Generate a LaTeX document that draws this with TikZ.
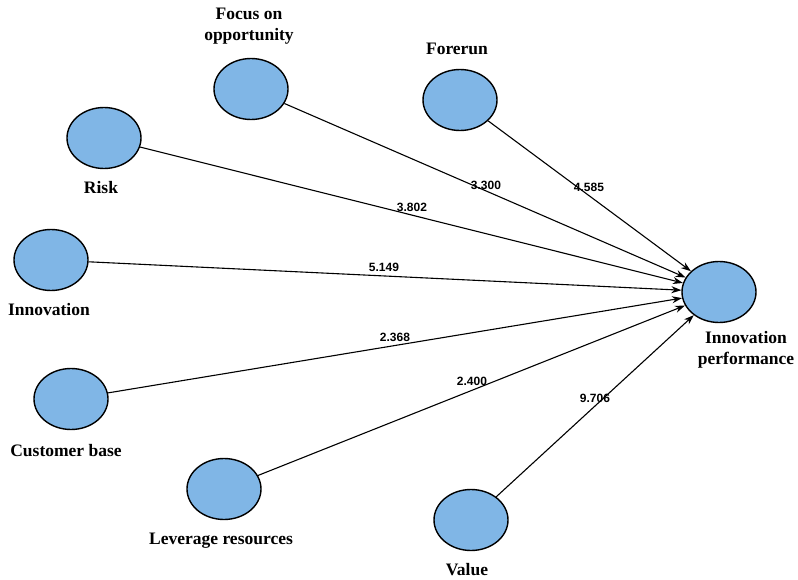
\documentclass[tikz,border=0pt]{standalone}
\usepackage{fontspec}
\setmainfont{Liberation Serif}
\newfontfamily\numfont{Liberation Sans}
\usetikzlibrary{shapes.geometric,arrows.meta}
\definecolor{nodeblue}{RGB}{128,182,230}
\begin{document}
\begin{tikzpicture}[x=1pt,y=-1pt,
  lv/.style={ellipse,draw=black,line width=1.4pt,fill=nodeblue,minimum width=74pt,minimum height=61pt,inner sep=0pt},
  lbl/.style={font=\fontsize{17.5}{20.5}\selectfont\bfseries,align=center,inner sep=0pt},
  coef/.style={font=\numfont\bfseries\fontsize{12}{14}\selectfont,inner sep=0pt},
  link/.style={draw=black,line width=1.1pt,-{Stealth[length=10pt,width=7pt]}}]
\useasboundingbox (0,0) rectangle (798,580);
\fill[white] (0,0) rectangle (798,580);

% latent variables
\node[lv] (foc) at (251,89) {};
\node[lv] (for) at (460,100) {};
\node[lv] (risk) at (104,138) {};
\node[lv] (inn) at (51,260) {};
\node[lv] (cus) at (71,399) {};
\node[lv] (lev) at (224,489) {};
\node[lv] (val) at (471,520) {};
\node[lv] (ip) at (719,292) {};

% labels
\node[lbl] (tfoc) at (249,26) {Focus on\\opportunity};
\node[lbl] (tfor) at (457,49) {Forerun};
\node[lbl] (trisk) at (101,188) {Risk};
\node[lbl] (tinn) at (49,310) {Innovation};
\node[lbl] (tcus) at (66,451) {Customer base};
\node[lbl] (tlev) at (221,541) {Leverage resources};
\node[lbl] (tval) at (467,570) {Value};
\node[lbl] (tip) at (746,350) {Innovation\\performance};

% connectors
\draw[link] (foc) -- (ip);
\draw[link] (for) -- (ip);
\draw[link] (risk) -- (ip);
\draw[link] (inn) -- (ip);
\draw[link] (cus) -- (ip);
\draw[link] (lev) -- (ip);
\draw[link] (val) -- (ip);

% coefficients
\node[coef] (c1) at (486,185) {3.300};
\node[coef] (c2) at (589,187) {4.585};
\node[coef] (c3) at (412,207) {3.802};
\node[coef] (c4) at (384,267) {5.149};
\node[coef] (c5) at (395,337) {2.368};
\node[coef] (c6) at (472,381) {2.400};
\node[coef] (c7) at (595,398) {9.706};
\end{tikzpicture}
\end{document}
